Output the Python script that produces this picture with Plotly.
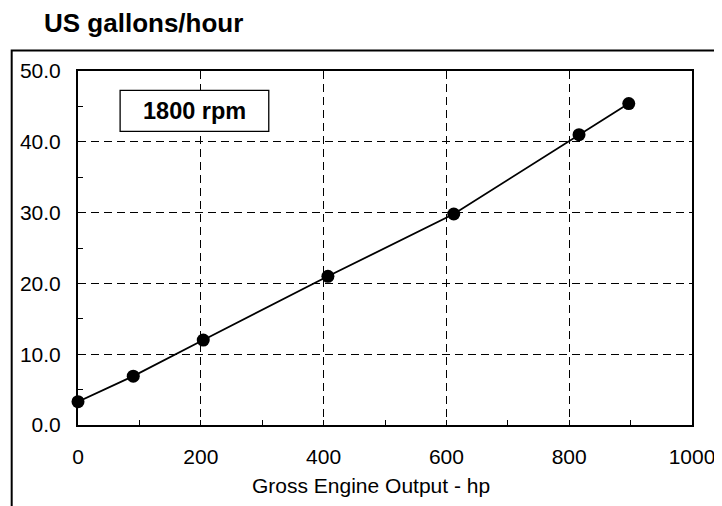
import plotly.graph_objects as go

# Data
engine_hp = [0, 90, 204, 407, 612, 816, 897]
fuel_gph = [3.3, 6.9, 12.0, 21.0, 29.8, 41.0, 45.4]
x_ticks = [0, 200, 400, 600, 800, 1000]
y_ticks = [0, 10, 20, 30, 40, 50]

FONT = "Liberation Sans, Arial, sans-serif"

fig = go.Figure()
fig.add_trace(go.Scatter(
    x=engine_hp, y=fuel_gph, mode="lines+markers",
    line=dict(color="black", width=1.8),
    marker=dict(color="black", size=13),
    showlegend=False, cliponaxis=False,
))

axis_common = dict(
    showline=True, linecolor="black", linewidth=2, mirror=True,
    ticks="inside", ticklen=5, tickcolor="black", tickwidth=1,
    showgrid=True, gridcolor="black", gridwidth=1, griddash="8px,5px",
    zeroline=False, tickfont=dict(family=FONT, size=21, color="black"),
)

fig.update_xaxes(range=[0, 1000], tickvals=x_ticks, ticktext=[str(v) for v in x_ticks],
                 ticklabelstandoff=12,
                 minor=dict(ticks="inside", ticklen=5, dtick=100, tick0=0, tickcolor="black", showgrid=False),
                 **axis_common)
fig.update_yaxes(range=[0, 50], tickvals=y_ticks, ticktext=[f"{v:.1f}" for v in y_ticks],
                 ticklabelstandoff=11,
                 minor=dict(ticks="inside", ticklen=5, dtick=5, tick0=0, tickcolor="black", showgrid=False),
                 **axis_common)

shapes = [
    # outer frame
    dict(type="rect", xref="paper", yref="paper", x0=-0.108, x1=1.046, y0=-0.27, y1=1.058,
         line=dict(color="black", width=2), fillcolor="rgba(0,0,0,0)", layer="below"),
    # label box
    dict(type="rect", xref="paper", yref="paper", x0=0.0686, x1=0.3107, y0=0.8297, y1=0.9455,
         line=dict(color="black", width=1.3), fillcolor="white", layer="above"),
]

annotations = [
    dict(text="<b>US gallons/hour</b>", xref="paper", yref="paper", x=-0.058, y=1.1356,
         xanchor="left", yanchor="middle", showarrow=False,
         font=dict(family=FONT, size=26, color="black")),
    dict(text="<b>1800 rpm</b>", xref="paper", yref="paper", x=(0.0686 + 0.3107) / 2, y=(0.8297 + 0.9455) / 2,
         xanchor="center", yanchor="middle", showarrow=False,
         font=dict(family=FONT, size=23.5, color="black")),
    dict(text="Gross Engine Output - hp", xref="paper", yref="paper", x=0.478, y=-0.1695,
         xanchor="center", yanchor="middle", showarrow=False,
         font=dict(family=FONT, size=21, color="black")),
]

fig.update_layout(
    width=722, height=506,
    margin=dict(l=67, r=38, t=63, b=89),
    paper_bgcolor="white", plot_bgcolor="white",
    shapes=shapes, annotations=annotations,
    font=dict(family=FONT, color="black"),
)

fig.write_html("out.html")
